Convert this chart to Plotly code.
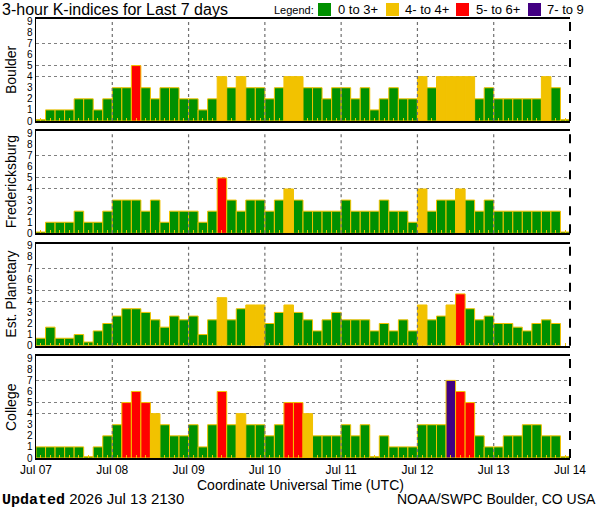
import plotly.graph_objects as go
from datetime import datetime, timedelta

# ---------------- data ----------------
stations = ["Boulder", "Fredericksburg", "Est. Planetary", "College"]
boulder = [0, 1, 1, 1, 2, 2, 1, 2,
           3, 3, 5, 3, 2, 3, 3, 2,
           2, 1, 2, 4, 3, 4, 3, 3,
           2, 3, 4, 4, 3, 3, 2, 3,
           3, 2, 3, 1, 2, 3, 2, 2,
           4, 3, 4, 4, 4, 4, 2, 3,
           2, 2, 2, 2, 2, 4, 3, 0]
fredericksburg = [0, 1, 1, 1, 2, 1, 1, 2,
                  3, 3, 3, 2, 3, 1, 2, 2,
                  2, 1, 2, 5, 3, 2, 3, 3,
                  2, 3, 4, 3, 2, 2, 2, 2,
                  3, 2, 2, 2, 3, 2, 2, 1,
                  4, 2, 3, 3, 4, 3, 2, 3,
                  2, 2, 2, 2, 2, 2, 2, 0]
planetary = [0.67, 1.67, 0.67, 0.67, 1.0, 0.33, 1.33, 2.0,
             2.67, 3.33, 3.33, 3.0, 2.33, 1.67, 2.67, 2.33,
             2.67, 1.0, 2.33, 4.33, 2.33, 3.33, 3.67, 3.67,
             2.0, 3.0, 3.67, 3.0, 2.33, 1.33, 2.33, 3.0,
             2.33, 2.33, 2.33, 1.33, 2.0, 1.33, 2.33, 1.33,
             3.67, 2.33, 2.67, 3.67, 4.67, 3.33, 2.33, 2.67,
             2.0, 2.0, 1.67, 1.33, 2.0, 2.33, 2.0, None]
college = [1, 1, 1, 1, 1, 0, 1, 2,
           3, 5, 6, 5, 4, 3, 2, 2,
           3, 1, 3, 6, 3, 4, 3, 3,
           2, 3, 5, 5, 4, 2, 2, 2,
           3, 2, 3, 0, 2, 1, 1, 1,
           3, 3, 3, 7, 6, 5, 2, 1,
           1, 2, 2, 3, 3, 2, 2, 0]
series = [boulder, fredericksburg, planetary, college]

start_day = "2026-07-07"
n_days = 7
day_labels = ["Jul 07", "Jul 08", "Jul 09", "Jul 10", "Jul 11", "Jul 12", "Jul 13", "Jul 14"]
legend_labels = ["0 to 3+", "4- to 4+", "5- to 6+", "7- to 9"]
legend_limits = [3.5, 4.5, 6.5, 99]
y_ticks = [0, 1, 2, 3, 4, 5, 6, 7, 8, 9]
grid_levels = [4, 5, 7]

title_text = "3-hour K-indices for Last 7 days"
xlabel_text = "Coordinate Universal Time (UTC)"
updated_text = "2026 Jul 13 2130"
credit_text = "NOAA/SWPC Boulder, CO USA"

# ---------------- styles ----------------
COLORS = ["#009000", "#f2c200", "#ff0000", "#420082"]
OUTLINE = "#f2c200"
FONT = "Liberation Sans, Arial, sans-serif"
W, H = 600, 510
ML, MR, MT, MB = 36, 30, 19, 52
PW, PH = W - ML - MR, H - MT - MB


def color_for(v):
    if v is None:
        return COLORS[0]
    for lim, c in zip(legend_limits, COLORS):
        if v < lim:
            return c
    return COLORS[-1]


def px2x(px):
    return (px - ML) / PW


def px2y(py):
    return (H - MB - py) / PH


t0 = datetime.strptime(start_day, "%Y-%m-%d")
slot = timedelta(hours=3)
n_slots = n_days * 8
centers = [t0 + slot * i + slot / 2 for i in range(n_slots)]
day_ticks = [t0 + timedelta(days=d) for d in range(n_days + 1)]
width_ms = slot.total_seconds() * 1000

fig = go.Figure()

panel_h = 102
gap = (PH - 4 * panel_h) / 3
domains = []
for k in range(4):
    top = PH - k * (panel_h + gap)
    domains.append([(top - panel_h) / PH, top / PH])

shapes = []
annotations = []

for k, (name, vals) in enumerate(zip(stations, series)):
    idx = "" if k == 0 else str(k + 1)
    heights = [None if v is None else (v if v > 0 else 0.12) for v in vals]
    fig.add_trace(go.Bar(
        x=centers, y=heights, width=width_ms,
        marker=dict(color=[color_for(v) for v in vals],
                    line=dict(color=OUTLINE, width=1)),
        xaxis="x" + idx, yaxis="y" + idx, showlegend=False,
        hoverinfo="skip",
    ))
    last = (k == 3)
    fig.layout["xaxis" + idx] = dict(
        type="date", domain=[0, 1], anchor="y" + idx,
        range=[day_ticks[0], day_ticks[-1]],
        tickmode="array", tickvals=day_ticks, ticktext=day_labels,
        showticklabels=last, ticks="",
        tickfont=dict(family=FONT, size=12, color="black"),
        showgrid=False, zeroline=False,
        showline=True, linecolor="black", linewidth=2, mirror=True,
        minor=dict(tickmode="linear", tick0=centers[0], dtick=width_ms,
                   ticks="inside", ticklen=3, tickwidth=1, tickcolor=OUTLINE,
                   showgrid=False),
        matches=None if k == 0 else "x",
    )
    fig.layout["yaxis" + idx] = dict(
        domain=domains[k], anchor="x" + idx, range=[0, 9.2],
        tickmode="array", tickvals=y_ticks, ticks="",
        tickfont=dict(family=FONT, size=10, color="black"),
        showgrid=False, zeroline=False,
        showline=True, linecolor="black", linewidth=1.5,
        minor=dict(tickmode="array", tickvals=grid_levels, showgrid=True,
                   gridcolor="#808080", griddash="dot", gridwidth=1, ticks=""),
    )
    # vertical day separators above bars
    for d in day_ticks[1:-1]:
        shapes.append(dict(type="line", xref="x" + idx, yref="y" + idx + " domain",
                           x0=d, x1=d, y0=0, y1=1, layer="above",
                           line=dict(color="#707070", width=1.2, dash="dot")))
    # dashed right edge
    shapes.append(dict(type="line", xref="x" + idx + " domain", yref="y" + idx + " domain",
                       x0=1, x1=1, y0=0, y1=1, layer="above",
                       line=dict(color="black", width=2, dash="dash")))
    # station label
    annotations.append(dict(text=name, xref="paper", yref="y" + idx + " domain",
                            x=px2x(11), y=0.5, textangle=-90, showarrow=False,
                            xanchor="center", yanchor="middle",
                            font=dict(family=FONT, size=14, color="black")))

# title
annotations.append(dict(text=title_text, xref="paper", yref="paper",
                        x=px2x(0), y=px2y(9), xanchor="left", yanchor="middle",
                        showarrow=False, font=dict(family=FONT, size=16, color="black")))
# legend
annotations.append(dict(text="Legend:", xref="paper", yref="paper",
                        x=px2x(272), y=px2y(10), xanchor="left", yanchor="middle",
                        showarrow=False, font=dict(family=FONT, size=11, color="black")))
box_x = [318, 386, 456, 528]
text_x = [336, 403, 474, 545]
for bx, tx, c, lab in zip(box_x, text_x, COLORS, legend_labels):
    shapes.append(dict(type="rect", xref="paper", yref="paper",
                       x0=px2x(bx), x1=px2x(bx + 13), y0=px2y(16), y1=px2y(3),
                       fillcolor=c, line=dict(width=0)))
    annotations.append(dict(text=lab, xref="paper", yref="paper",
                            x=px2x(tx), y=px2y(10), xanchor="left", yanchor="middle",
                            showarrow=False, font=dict(family=FONT, size=13, color="black")))
# x label
annotations.append(dict(text=xlabel_text, xref="paper", yref="paper",
                        x=px2x(300), y=px2y(485), xanchor="center", yanchor="middle",
                        showarrow=False, font=dict(family=FONT, size=14, color="black")))
# updated
annotations.append(dict(
    text='<span style="font-family:Liberation Mono, Courier New, monospace"><b>Updated</b></span> ' + updated_text,
    xref="paper", yref="paper", x=px2x(0), y=px2y(499), xanchor="left", yanchor="middle",
    showarrow=False, font=dict(family=FONT, size=15, color="black")))
# credit
annotations.append(dict(text=credit_text, xref="paper", yref="paper",
                        x=px2x(598), y=px2y(499), xanchor="right", yanchor="middle",
                        showarrow=False, font=dict(family=FONT, size=14, color="black")))

fig.update_layout(
    width=W, height=H, margin=dict(l=ML, r=MR, t=MT, b=MB),
    paper_bgcolor="white", plot_bgcolor="white",
    bargap=0, shapes=shapes, annotations=annotations,
    showlegend=False,
)

fig.write_html("out.html",
               config={"displayModeBar": False, "staticPlot": True},
               post_script="document.body.style.margin='0px';document.body.style.overflow='hidden';")
